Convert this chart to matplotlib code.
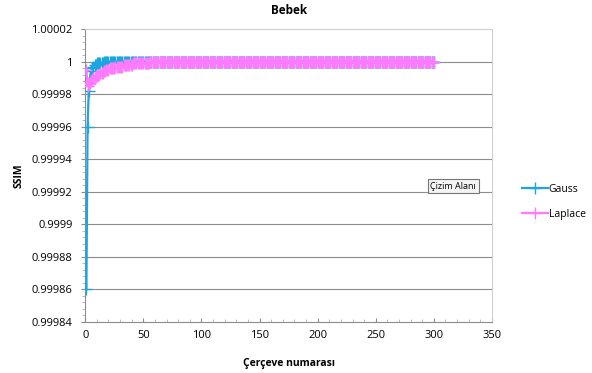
import matplotlib
matplotlib.use("Agg")
import matplotlib.pyplot as plt
import numpy as np

# SSIM per frame
gauss_head = [0.99986, 0.99996, 0.999982, 0.99999, 0.999994, 0.999996, 0.999997,
              0.999998, 0.999998, 0.999999, 0.999999, 0.999999, 0.999999,
              0.999999, 0.999999]
laplace_head = [0.999995, 0.999985, 0.999986, 0.999987, 0.999988, 0.999989,
                0.99999, 0.99999, 0.999991, 0.999991, 0.999992, 0.999992,
                0.999993, 0.999993, 0.999993, 0.999994, 0.999994, 0.999995,
                0.999995, 0.999995, 0.999996, 0.999996, 0.999996, 0.999996,
                0.999996, 0.999997, 0.999997, 0.999997, 0.999997, 0.999997,
                0.999997, 0.999997, 0.999998, 0.999998, 0.999998, 0.999998,
                0.999998, 0.999998, 0.999998, 0.999998, 0.999999, 0.999999,
                0.999999, 0.999999, 0.999999, 0.999999, 0.999999, 0.999999,
                0.999999, 0.999999, 0.999999, 0.999999, 0.999999, 0.999999,
                0.999999]
n_frames = 300
gauss = gauss_head + [1.0] * (n_frames - len(gauss_head))
laplace = laplace_head + [1.0] * (n_frames - len(laplace_head))
frames = list(range(1, n_frames + 1))

y_ticks = [0.99984, 0.99986, 0.99988, 0.9999, 0.99992, 0.99994, 0.99996,
           0.99998, 1.0, 1.00002]
y_labels = ["0.99984", "0.99986", "0.99988", "0.9999", "0.99992", "0.99994",
            "0.99996", "0.99998", "1", "1.00002"]
x_ticks = [0, 50, 100, 150, 200, 250, 300, 350]

plt.rcParams["font.family"] = ["Open Sans", "DejaVu Sans"]

fig = plt.figure(figsize=(5.92, 3.73), dpi=100)
ax = fig.add_axes([0.144, 0.137, 0.687, 0.785])

grid_c = "#8c8c8c"
for yv in y_ticks[1:-1]:
    ax.axhline(yv, color=grid_c, lw=0.8, zorder=1)

ax.plot(frames, gauss, color="#1aa6e0", lw=1.6, marker="+", ms=8, mew=1.0,
        label="Gauss", zorder=3)
ax.plot(frames, laplace, color="#ff7aff", lw=1.6, marker="+", ms=8, mew=1.0,
        label="Laplace", zorder=4)

ax.set_xlim(0, 350)
ax.set_ylim(0.99984, 1.00002)
ax.set_yticks(y_ticks)
ax.set_yticklabels(y_labels)
ax.set_xticks(x_ticks)
ax.set_xticks(np.arange(0, 351, 10), minor=True)
ax.set_yticks(np.arange(0.99984, 1.000021, 0.000004), minor=True)
ax.tick_params(axis="both", labelsize=8, color="#8c8c8c", length=3, pad=6)
ax.tick_params(axis="y", which="both", direction="out", length=3)
ax.tick_params(axis="x", which="both", direction="in", length=3)
ax.tick_params(which="minor", length=2, color="#b0b0b0")
for s in ("left", "bottom"):
    ax.spines[s].set_color("#8c8c8c")
for s in ("top", "right"):
    ax.spines[s].set_color("#d0d0d0")

ax.set_title("Bebek", fontsize=8.5, fontweight="bold", pad=11)
ax.set_xlabel("Çerçeve numarası", fontsize=7.5, fontweight="bold", labelpad=12)
ax.set_ylabel("SSIM", fontsize=7.5, fontweight="bold", labelpad=5)

ax.legend(loc="center left", bbox_to_anchor=(1.05, 0.41), frameon=False,
          fontsize=7.5, handlelength=2.5, handletextpad=0.1, labelspacing=1.3)

fig.text(0.727, 0.501, "Çizim Alanı", fontsize=6.5, ha="left", va="center",
         bbox=dict(boxstyle="square,pad=0.3", fc="#f4f4f4", ec="#777777", lw=0.8))

fig.savefig("out.png", dpi=100)
